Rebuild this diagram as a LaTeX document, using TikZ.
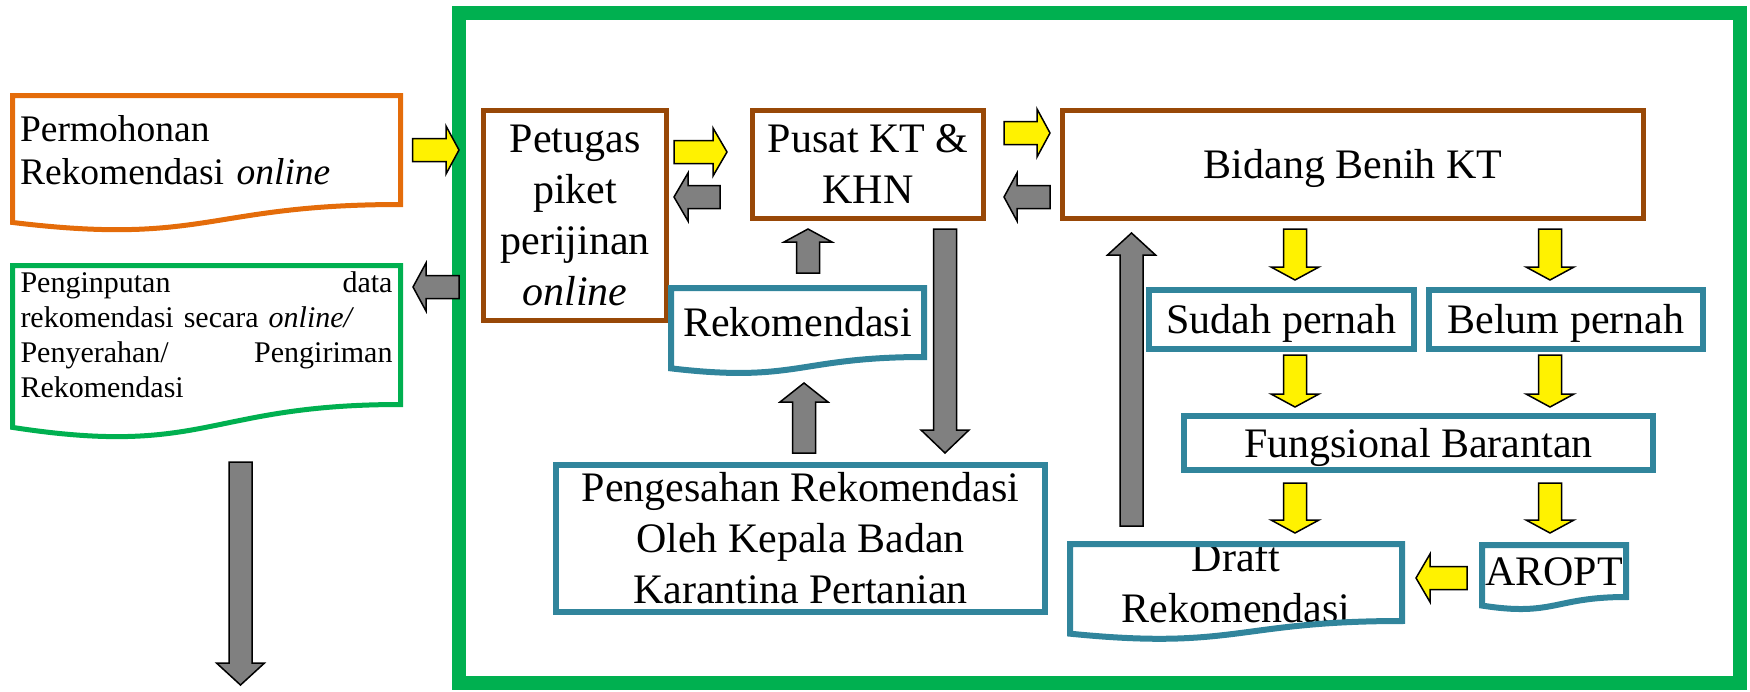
\documentclass[tikz,border=0pt]{standalone}
\usepackage{fontspec}
\setmainfont{Liberation Serif}
\usetikzlibrary{calc,positioning}

\definecolor{framegreen}{HTML}{00B050}
\definecolor{docorange}{HTML}{E46C0A}
\definecolor{boxbrown}{HTML}{984807}
\definecolor{boxteal}{HTML}{31859C}
\definecolor{arrowgray}{HTML}{808080}

% document shape round an existing node: #1 line style, #2 node
\newcommand\docoutline[2]{%
  \draw[#1] (#2.north west) -- (#2.north east) -- (#2.south east)
    .. controls (#2.south) and ($(#2.north)!1.381!(#2.south)$)
    .. ($(#2.north west)!1.1646!(#2.south west)$) -- cycle;}

% block arrow: #1 head length, #2 style, #3 from, #4 to (tip)
\newcommand\fatarrow[4][14]{%
  \coordinate (hb) at ($(#4)!#1pt!(#3)$);
  \draw[#2] ($(#3)!11.5pt!90:(#4)$) -- ($(hb)!11.5pt!90:(#4)$)
    -- ($(hb)!24pt!90:(#4)$) -- (#4) -- ($(hb)!24pt!-90:(#4)$)
    -- ($(hb)!11.5pt!-90:(#4)$) -- ($(#3)!11.5pt!-90:(#4)$) -- cycle;}

\begin{document}
\begin{tikzpicture}[x=1pt, y=-1pt, on grid,
    every node/.style={inner sep=0pt, outer sep=0pt},
    bigtext/.style={font=\fontsize{42}{51}\selectfont},
    brownbox/.style={draw=boxbrown, line width=5pt, align=center, bigtext},
    tealbox/.style={draw=boxteal, line width=6pt, align=center, bigtext},
    docnode/.style={align=center, bigtext},
    oneline/.style={text height=28pt, text depth=0pt},
    fatarrow/.style={draw=black, line width=1.5pt, line join=miter},
    yelarrow/.style={fatarrow, fill=yellow},
    grayarrow/.style={fatarrow, fill=arrowgray}]
  \useasboundingbox (0,0) rectangle (1750,691);
  \node[draw=framegreen, line width=14pt, minimum width=1281pt,
    minimum height=670pt] (frame) at (1099.5,348) {};

  % left column
  \node[docnode, align=left, text width=373pt, inner xsep=7.5pt, minimum height=109pt,
    font=\fontsize{37.5}{43}\selectfont] (perm) at (206.5,150)
    {Permohonan\\Rekomendasi \textit{online}};
  \docoutline{draw=docorange, line width=5pt}{perm}
  \node[docnode, align=left, text width=372pt, inner xsep=8pt, minimum height=139pt,
    font=\fontsize{30}{35}\selectfont] (inp) at (206.5,335)
    {Penginputan\hfill data\\rekomendasi secara \textit{online/}\\Penyerahan/\hfill Pengiriman\\Rekomendasi};
  \docoutline{draw=framegreen, line width=5pt}{inp}

  % inside the frame
  \node[brownbox, minimum width=183pt, minimum height=210pt] (petugas) at (575,215.5)
    {Petugas\\piket\\perijinan\\\textit{online}};
  \node[brownbox, minimum width=231pt, minimum height=108pt] (pusat) at (868,164.5)
    {Pusat KT \&\\KHN};
  \node[brownbox, oneline, minimum width=581pt, minimum height=108pt] (bidang) at (1353,164.5)
    {Bidang Benih KT};
  \node[docnode, oneline, minimum width=253pt, minimum height=69pt] (rek) at (797.5,322.5)
    {Rekomendasi};
  \docoutline{draw=boxteal, line width=6pt}{rek}
  \node[tealbox, minimum width=489pt, minimum height=147pt] (peng) at (800.5,538.5)
    {Pengesahan Rekomendasi\\Oleh Kepala Badan\\Karantina Pertanian};
  \node[tealbox, oneline, minimum width=265pt, minimum height=59pt] (sudah) at (1281.5,319.5)
    {Sudah pernah};
  \node[tealbox, oneline, minimum width=274pt, minimum height=59pt, right=284.5pt of sudah] (belum)
    {Belum pernah};
  \node[tealbox, oneline, minimum width=469pt, minimum height=54pt] (fung) at (1418.5,443)
    {Fungsional Barantan};
  \node[docnode, inner ysep=-2pt, minimum width=332pt, minimum height=75pt] (draft) at (1236,582.5)
    {Draft\\Rekomendasi};
  \docoutline{draw=boxteal, line width=6pt}{draft}
  \node[docnode, oneline, minimum width=144pt, minimum height=52pt] (aropt) at (1554,571)
    {AROPT};
  \docoutline{draw=boxteal, line width=6pt}{aropt}

  % arrow ends
  \coordinate (inpin) at (413,287);
  \coordinate (outtop) at (240.5,462);
  \coordinate (outend) at (240.5,685);
  \coordinate (pet-r) at (674,152);   \coordinate (pus-l) at (727,152);
  \coordinate (pus-l2) at (720,197);  \coordinate (pet-r2) at (674,197);
  \coordinate (pus-r) at (1004,133);  \coordinate (bid-l) at (1050,133);
  \coordinate (bid-l2) at (1050,197); \coordinate (pus-r2) at (1004,197);
  \coordinate (rek-n) at (808,273);   \coordinate (pus-s) at (808,229);
  \coordinate (pus-s2) at (945,229);  \coordinate (peng-n) at (945,453);
  \coordinate (peng-n2) at (804,453); \coordinate (rek-s) at (804,383);
  \coordinate (draft-n) at (1131.5,526); \coordinate (bid-s) at (1131.5,233);
  \coordinate (aropt-w) at (1467,578); \coordinate (draft-e) at (1416,578);

  \fatarrow[13]{yelarrow}{[xshift=12pt]perm.east}{frame.west |- perm.east}
  \fatarrow[13]{grayarrow}{frame.west |- inpin}{inpin}
  \fatarrow[22]{grayarrow}{outtop}{outend}
  \fatarrow{yelarrow}{pet-r}{pus-l}
  \fatarrow{grayarrow}{pus-l2}{pet-r2}
  \fatarrow[13]{yelarrow}{pus-r}{bid-l}
  \fatarrow[13]{grayarrow}{bid-l2}{pus-r2}
  \fatarrow[13]{grayarrow}{rek-n}{pus-s}
  \fatarrow[23]{grayarrow}{pus-s2}{peng-n}
  \fatarrow[19]{grayarrow}{peng-n2}{rek-s}
  \fatarrow[22]{grayarrow}{draft-n}{bid-s}
  \foreach \col in {1295,1550}{
    \fatarrow[13]{yelarrow}{\col,229}{\col,280}
    \fatarrow[13]{yelarrow}{\col,355}{\col,407}
    \fatarrow[13]{yelarrow}{\col,483}{\col,533}
  }
  \fatarrow{yelarrow}{aropt-w}{draft-e}
\end{tikzpicture}
\end{document}
